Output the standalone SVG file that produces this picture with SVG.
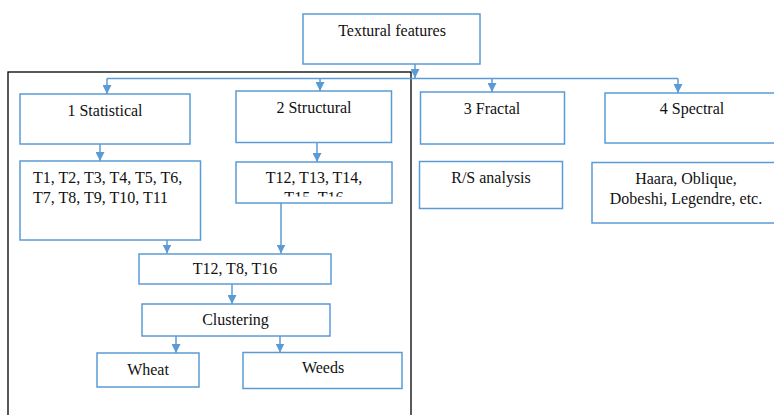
<svg xmlns="http://www.w3.org/2000/svg" width="774" height="415" viewBox="0 0 774 415">
<style>
.box{fill:#fff;stroke:#5B9BD5;stroke-width:1.5}
.t{font-family:'Liberation Serif','Times New Roman','DejaVu Serif',serif;font-size:16px;fill:#111;text-anchor:middle}
.tl{text-anchor:start}
.c{fill:none;stroke:#5B9BD5;stroke-width:1.5}
</style>
<defs>
<marker id="ah" viewBox="0 0 10 10" refX="10" refY="5" markerWidth="9" markerHeight="9" markerUnits="userSpaceOnUse" orient="auto">
<path d="M0,0 L10,5 L0,10 z" fill="#5B9BD5"/>
</marker>
<clipPath id="clipS"><rect x="236" y="162" width="156" height="34.5"/></clipPath>
</defs>
<rect width="774" height="415" fill="#fff"/>
<rect x="8" y="72" width="403" height="360" fill="none" stroke="#000" stroke-width="1.3"/>
<g id="connectors">
<path class="c" d="M415,64 V78" marker-end="url(#ah)"/>
<path class="c" d="M107,78.5 H678"/>
<path class="c" d="M107,78.5 V94" marker-end="url(#ah)"/>
<path class="c" d="M320,78.5 V91" marker-end="url(#ah)"/>
<path class="c" d="M492,78.5 V92" marker-end="url(#ah)"/>
<path class="c" d="M678,78.5 V93" marker-end="url(#ah)"/>
<path class="c" d="M100,144 V161" marker-end="url(#ah)"/>
<path class="c" d="M317,142.5 V162" marker-end="url(#ah)"/>
<path class="c" d="M167,240 V253.5" marker-end="url(#ah)"/>
<path class="c" d="M281,203 V253.5" marker-end="url(#ah)"/>
<path class="c" d="M232,284 V304" marker-end="url(#ah)"/>
<path class="c" d="M176,336 V353" marker-end="url(#ah)"/>
<path class="c" d="M280,336 V352.5" marker-end="url(#ah)"/>
</g>
<g id="textural"><rect class="box" x="303" y="14" width="177" height="50"/><text class="t" x="392" y="36">Textural features</text></g>
<g id="statistical"><rect class="box" x="20" y="94" width="170" height="50"/><text class="t" x="105" y="116">1 Statistical</text></g>
<g id="structural"><rect class="box" x="236" y="91" width="155.5" height="51.5"/><text class="t" x="314" y="113">2 Structural</text></g>
<g id="fractal"><rect class="box" x="420.5" y="92" width="144" height="52"/><text class="t" x="492" y="114">3 Fractal</text></g>
<g id="spectral"><rect class="box" x="605" y="93" width="175" height="50"/><text class="t" x="692" y="114">4 Spectral</text></g>
<g id="stat-features"><rect class="box" x="20" y="161" width="180.5" height="79"/><text class="t tl" x="33" y="183">T1, T2, T3, T4, T5, T6,</text><text class="t tl" x="33" y="203">T7, T8, T9, T10, T11</text></g>
<g id="struct-features"><rect class="box" x="236" y="162" width="156" height="41"/><g clip-path="url(#clipS)"><text class="t" x="314" y="183">T12, T13, T14,</text><text class="t" x="314" y="203">T15, T16</text></g></g>
<g id="rs"><rect class="box" x="419.5" y="161.5" width="143" height="47"/><text class="t" x="491" y="183">R/S analysis</text></g>
<g id="wavelets"><rect class="box" x="592" y="162.5" width="190" height="60.5"/><text class="t" x="686" y="184">Haara, Oblique,</text><text class="t" x="686" y="204">Dobeshi, Legendre, etc.</text></g>
<g id="selected"><rect class="box" x="139" y="254" width="192" height="30"/><text class="t" x="235" y="274">T12, T8, T16</text></g>
<g id="clustering"><rect class="box" x="142" y="304" width="188" height="32"/><text class="t" x="235.5" y="325">Clustering</text></g>
<g id="wheat"><rect class="box" x="97" y="353" width="102" height="34"/><text class="t" x="148" y="375">Wheat</text></g>
<g id="weeds"><rect class="box" x="243" y="352.5" width="159" height="36"/><text class="t" x="323" y="373">Weeds</text></g>
</svg>
